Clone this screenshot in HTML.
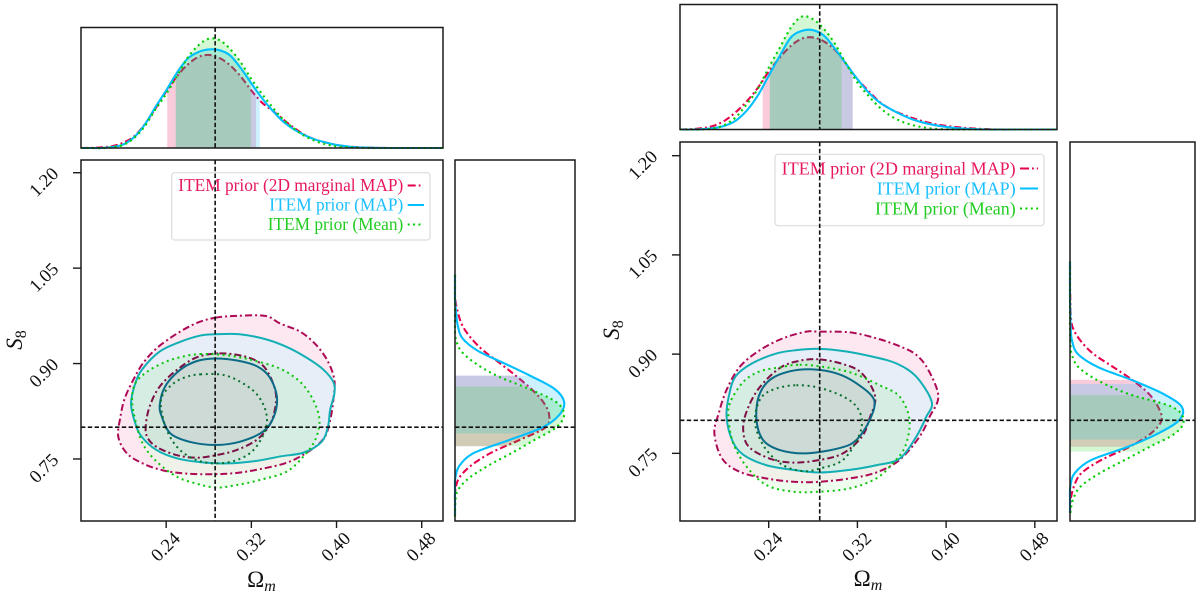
<!DOCTYPE html>
<html lang="en">
<head>
<meta charset="utf-8">
<title>Omega_m and S_8 posterior comparison</title>
<style>
html,body{margin:0;padding:0;background:#fff;width:1200px;height:594px;overflow:hidden}
svg{display:block}
text{font-family:"Liberation Serif",serif;fill:#111}
</style>
</head>
<body>
<svg id="figure" xmlns="http://www.w3.org/2000/svg" width="1200" height="594" viewBox="0 0 1200 594">
  <defs id="clip-defs"></defs>

  <g id="left-chart">
    <g id="left-marks"></g>
    <g>
      <rect x="171.7" y="172.7" width="258.3" height="67.3" rx="3" fill="#fff" fill-opacity="0.8" stroke="#dcdcdc" stroke-width="1.2"/>
      <text x="403.3" y="191" text-anchor="end" font-size="17.5" textLength="225" lengthAdjust="spacingAndGlyphs" style="fill:#e6195f">ITEM prior (2D marginal MAP)</text>
      <text x="403.3" y="210.5" text-anchor="end" font-size="17.5" textLength="134" lengthAdjust="spacingAndGlyphs" style="fill:#19bfff">ITEM prior (MAP)</text>
      <text x="403.3" y="230" text-anchor="end" font-size="17.5" textLength="135.6" lengthAdjust="spacingAndGlyphs" style="fill:#22cc22">ITEM prior (Mean)</text>
      <line x1="407.7" x2="423" y1="185.5" y2="185.5" stroke="#e6004c" stroke-width="2" stroke-dasharray="8 3 1.8 3"/>
      <line x1="407.7" x2="424" y1="205" y2="205" stroke="#00bfff" stroke-width="2"/>
      <line x1="407.7" x2="424" y1="224.5" y2="224.5" stroke="#00cd00" stroke-width="2" stroke-dasharray="2 3.4"/>
    </g>
    <g id="left-truth"></g>
    <g id="left-axes"></g>
    <text x="261.5" y="587" text-anchor="middle" font-size="23">Ω<tspan font-size="16" dy="4" font-style="italic">m</tspan></text>
    <text transform="translate(22 340) rotate(-90)" text-anchor="middle" font-size="23" font-style="italic">S<tspan font-size="16" dy="4" font-style="normal">8</tspan></text>
  </g>

  <g id="right-chart">
    <g id="right-marks"></g>
    <g>
      <rect x="775" y="154.3" width="269" height="71.4" rx="3" fill="#fff" fill-opacity="0.8" stroke="#dcdcdc" stroke-width="1.2"/>
      <text x="1015.7" y="174.5" text-anchor="end" font-size="18" textLength="234" lengthAdjust="spacingAndGlyphs" style="fill:#e6195f">ITEM prior (2D marginal MAP)</text>
      <text x="1015.7" y="194.5" text-anchor="end" font-size="18" textLength="139" lengthAdjust="spacingAndGlyphs" style="fill:#19bfff">ITEM prior (MAP)</text>
      <text x="1015.7" y="214.5" text-anchor="end" font-size="18" textLength="140.7" lengthAdjust="spacingAndGlyphs" style="fill:#22cc22">ITEM prior (Mean)</text>
      <line x1="1020" x2="1038" y1="168.5" y2="168.5" stroke="#e6004c" stroke-width="2" stroke-dasharray="9 3 1.8 3"/>
      <line x1="1020" x2="1038" y1="188.5" y2="188.5" stroke="#00bfff" stroke-width="2"/>
      <line x1="1020" x2="1038" y1="208.5" y2="208.5" stroke="#00cd00" stroke-width="2" stroke-dasharray="2 3.4"/>
    </g>
    <g id="right-truth"></g>
    <g id="right-axes"></g>
    <text x="868" y="586" text-anchor="middle" font-size="23">Ω<tspan font-size="16" dy="4" font-style="italic">m</tspan></text>
    <text transform="translate(619 330) rotate(-90)" text-anchor="middle" font-size="23" font-style="italic">S<tspan font-size="16" dy="4" font-style="normal">8</tspan></text>
  </g>
</svg>

<script>
/* ---------- shared axis values ---------- */
const omegaGrid = [0.16,0.17,0.18,0.19,0.20,0.21,0.22,0.23,0.24,0.25,0.26,0.27,0.28,0.29,0.30,0.31,0.32,0.33,0.34,0.35,0.36,0.37,0.38,0.39,0.40,0.41,0.42,0.43,0.44,0.45,0.46,0.47,0.48,0.49,0.50];
const s8Grid = [0.66,0.68,0.70,0.72,0.74,0.76,0.78,0.80,0.82,0.84,0.86,0.88,0.90,0.92,0.94,0.96,0.98,1.00,1.02,1.04];
const omegaTicks = [0.24,0.32,0.40,0.48];
const omegaTickLabels = ["0.24","0.32","0.40","0.48"];
const s8Ticks = [0.75,0.90,1.05,1.20];
const s8TickLabels = ["0.75","0.90","1.05","1.20"];
const truthOmega = 0.286;
const truthS8 = 0.80;

/* ---------- left chart: Omega_m marginals ---------- */
const leftOmegaRed = [0,0.001,0.006,0.018,0.05,0.107,0.218,0.362,0.515,0.653,0.76,0.83,0.85,0.822,0.755,0.653,0.525,0.414,0.34,0.26,0.184,0.12,0.077,0.05,0.028,0.015,0.007,0.003,0.001,0,0,0,0,0,0];
const leftOmegaBlue = [0,0,0,0.01,0.034,0.10,0.215,0.375,0.525,0.685,0.815,0.875,0.90,0.893,0.845,0.73,0.59,0.455,0.34,0.24,0.17,0.117,0.077,0.05,0.028,0.015,0.006,0.003,0.001,0,0,0,0,0,0];
const leftOmegaGreen = [0,0,0,0.006,0.03,0.092,0.20,0.353,0.494,0.653,0.822,0.935,0.997,0.985,0.905,0.782,0.63,0.494,0.37,0.26,0.178,0.11,0.064,0.034,0.015,0.006,0.002,0,0,0,0,0,0,0,0];
/* left chart: S8 marginals */
const leftS8Red = [0,0,0.003,0.037,0.15,0.333,0.593,0.832,0.862,0.807,0.70,0.563,0.416,0.263,0.147,0.067,0.027,0.003,0,0];
const leftS8Blue = [0,0,0,0.003,0.043,0.18,0.50,0.807,0.96,1.0,0.914,0.70,0.456,0.21,0.067,0.025,0.01,0,0,0];
const leftS8Green = [0,0.003,0.024,0.128,0.31,0.526,0.73,0.93,1.0,0.924,0.68,0.394,0.19,0.055,0.006,0,0,0,0,0];
/* left chart: 68% intervals [low, high] */
const leftOmegaBandRed = [0.241,0.3244];
const leftOmegaBandBlue = [0.249,0.328];
const leftOmegaBandGreen = [0.249,0.3197];
const leftS8BandRed = [0.77,0.881];
const leftS8BandBlue = [0.79,0.881];
const leftS8BandGreen = [0.77,0.864];
/* left chart: contours as [Omega_m, S8] */
const leftRedOuter = [[0.286,0.972],[0.306,0.975],[0.333,0.975],[0.347,0.963],[0.366,0.950],[0.381,0.929],[0.392,0.903],[0.398,0.874],[0.397,0.843],[0.394,0.811],[0.388,0.782],[0.372,0.760],[0.353,0.744],[0.328,0.734],[0.306,0.728],[0.284,0.726],[0.259,0.727],[0.237,0.732],[0.218,0.743],[0.203,0.759],[0.195,0.785],[0.197,0.816],[0.201,0.845],[0.209,0.874],[0.218,0.900],[0.231,0.924],[0.250,0.947],[0.269,0.964]];
const leftBlueOuter = [[0.286,0.946],[0.309,0.946],[0.334,0.938],[0.356,0.924],[0.375,0.906],[0.388,0.890],[0.397,0.871],[0.398,0.853],[0.394,0.827],[0.392,0.801],[0.386,0.777],[0.369,0.760],[0.347,0.754],[0.325,0.747],[0.297,0.743],[0.272,0.745],[0.250,0.751],[0.231,0.764],[0.217,0.785],[0.211,0.806],[0.207,0.837],[0.211,0.869],[0.218,0.892],[0.234,0.919],[0.253,0.934],[0.272,0.944]];
const leftGreenOuter = [[0.272,0.915],[0.297,0.913],[0.322,0.905],[0.347,0.892],[0.366,0.871],[0.378,0.843],[0.384,0.811],[0.380,0.780],[0.369,0.754],[0.353,0.730],[0.328,0.717],[0.306,0.709],[0.287,0.705],[0.269,0.711],[0.250,0.722],[0.231,0.746],[0.218,0.774],[0.211,0.811],[0.208,0.843],[0.211,0.869],[0.222,0.887],[0.237,0.901],[0.253,0.910]];
const leftRedInner = [[0.290,0.916],[0.312,0.912],[0.328,0.901],[0.337,0.882],[0.343,0.853],[0.342,0.827],[0.337,0.803],[0.325,0.780],[0.306,0.764],[0.287,0.756],[0.269,0.752],[0.250,0.756],[0.231,0.769],[0.222,0.785],[0.221,0.806],[0.225,0.835],[0.234,0.864],[0.250,0.890],[0.269,0.910]];
const leftBlueInner = [[0.286,0.908],[0.306,0.905],[0.325,0.896],[0.337,0.879],[0.344,0.848],[0.341,0.816],[0.331,0.793],[0.309,0.777],[0.286,0.772],[0.262,0.777],[0.244,0.790],[0.236,0.816],[0.234,0.835],[0.239,0.864],[0.253,0.890],[0.269,0.904]];
const leftGreenInner = [[0.272,0.883],[0.294,0.882],[0.312,0.869],[0.326,0.850],[0.334,0.822],[0.333,0.795],[0.322,0.764],[0.306,0.748],[0.287,0.743],[0.269,0.748],[0.253,0.764],[0.242,0.790],[0.236,0.822],[0.236,0.848],[0.247,0.869],[0.259,0.879]];

/* ---------- right chart: Omega_m marginals ---------- */
const rightOmegaRed = [0,0.003,0.012,0.032,0.076,0.15,0.246,0.364,0.51,0.633,0.736,0.80,0.81,0.774,0.698,0.575,0.443,0.34,0.243,0.179,0.135,0.10,0.07,0.047,0.032,0.02,0.012,0.006,0.002,0,0,0,0,0,0];
const rightOmegaBlue = [0,0,0.003,0.012,0.032,0.076,0.164,0.296,0.472,0.648,0.81,0.868,0.874,0.824,0.707,0.575,0.443,0.326,0.238,0.179,0.129,0.088,0.059,0.038,0.023,0.012,0.006,0.002,0,0,0,0,0,0,0];
const rightOmegaGreen = [0,0,0,0.009,0.04,0.105,0.22,0.355,0.545,0.72,0.897,0.994,0.97,0.883,0.75,0.575,0.413,0.296,0.194,0.12,0.07,0.038,0.018,0.006,0.002,0,0,0,0,0,0,0,0,0,0];
/* right chart: S8 marginals */
const rightS8Red = [0,0.006,0.035,0.10,0.276,0.526,0.712,0.806,0.776,0.694,0.556,0.385,0.209,0.094,0.024,0.006,0.003,0,0,0];
const rightS8Blue = [0,0,0.003,0.041,0.188,0.51,0.776,0.96,0.985,0.82,0.556,0.25,0.07,0.018,0.006,0.003,0,0,0,0];
const rightS8Green = [0.003,0.026,0.094,0.262,0.482,0.703,0.924,1.0,0.90,0.512,0.247,0.076,0.015,0.003,0,0,0,0,0,0];
/* right chart: 68% intervals [low, high] */
const rightOmegaBandRed = [0.2346,0.3157];
const rightOmegaBandBlue = [0.241,0.3157];
const rightOmegaBandGreen = [0.241,0.3058];
const rightS8BandRed = [0.76,0.861];
const rightS8BandBlue = [0.771,0.855];
const rightS8BandGreen = [0.7525,0.838];
/* right chart: contours as [Omega_m, S8] */
const rightRedOuter = [[0.286,0.934],[0.313,0.933],[0.337,0.924],[0.358,0.912],[0.373,0.899],[0.384,0.876],[0.393,0.836],[0.385,0.805],[0.376,0.775],[0.358,0.740],[0.337,0.721],[0.313,0.712],[0.286,0.707],[0.262,0.707],[0.238,0.712],[0.214,0.722],[0.198,0.742],[0.191,0.780],[0.195,0.811],[0.202,0.846],[0.214,0.881],[0.232,0.906],[0.253,0.924],[0.274,0.934]];
const rightBlueOuter = [[0.286,0.908],[0.310,0.904],[0.334,0.896],[0.355,0.886],[0.373,0.866],[0.387,0.828],[0.382,0.805],[0.373,0.775],[0.358,0.742],[0.337,0.732],[0.313,0.725],[0.286,0.721],[0.262,0.725],[0.238,0.732],[0.217,0.748],[0.207,0.770],[0.202,0.805],[0.204,0.836],[0.210,0.866],[0.225,0.886],[0.247,0.901],[0.265,0.906]];
const rightGreenOuter = [[0.268,0.884],[0.292,0.880],[0.316,0.871],[0.340,0.853],[0.358,0.836],[0.367,0.800],[0.363,0.760],[0.352,0.735],[0.337,0.712],[0.313,0.697],[0.286,0.692],[0.262,0.692],[0.238,0.702],[0.220,0.730],[0.208,0.765],[0.204,0.800],[0.205,0.826],[0.217,0.858],[0.232,0.874],[0.250,0.880]];
const rightRedInner = [[0.286,0.892],[0.307,0.885],[0.324,0.871],[0.336,0.836],[0.331,0.803],[0.324,0.775],[0.307,0.750],[0.286,0.740],[0.262,0.736],[0.241,0.742],[0.222,0.760],[0.217,0.785],[0.220,0.813],[0.231,0.848],[0.250,0.879],[0.268,0.890]];
const rightBlueInner = [[0.280,0.877],[0.301,0.871],[0.319,0.856],[0.335,0.831],[0.331,0.800],[0.319,0.770],[0.304,0.758],[0.274,0.750],[0.250,0.755],[0.235,0.770],[0.229,0.800],[0.231,0.836],[0.241,0.861],[0.259,0.874]];
const rightGreenInner = [[0.265,0.853],[0.286,0.849],[0.307,0.836],[0.319,0.821],[0.324,0.800],[0.321,0.775],[0.307,0.740],[0.286,0.727],[0.271,0.723],[0.253,0.732],[0.238,0.755],[0.229,0.785],[0.228,0.810],[0.234,0.836],[0.247,0.848]];

/* ---------- drawing ---------- */
const NS = 'http://www.w3.org/2000/svg';
const RED = '#e6004c', BLUE = '#00bfff', GREEN = '#00cd00';
const DASH_RED = '7 3 2 3', DOTS = '2 3.6';

function make(tag, attrs, parent) {
  const node = document.createElementNS(NS, tag);
  for (const key in attrs) node.setAttribute(key, attrs[key]);
  parent.appendChild(node);
  return node;
}

/* Catmull-Rom spline through points, open or closed */
function spline(pts, closed) {
  const n = pts.length;
  const at = i => closed ? pts[(i + n) % n] : pts[Math.max(0, Math.min(n - 1, i))];
  let d = 'M' + pts[0][0].toFixed(2) + ' ' + pts[0][1].toFixed(2);
  const segs = closed ? n : n - 1;
  for (let i = 0; i < segs; i++) {
    const p0 = at(i - 1), p1 = at(i), p2 = at(i + 1), p3 = at(i + 2);
    const c1x = p1[0] + (p2[0] - p0[0]) / 6, c1y = p1[1] + (p2[1] - p0[1]) / 6;
    const c2x = p2[0] - (p3[0] - p1[0]) / 6, c2y = p2[1] - (p3[1] - p1[1]) / 6;
    d += 'C' + c1x.toFixed(2) + ' ' + c1y.toFixed(2) + ' ' + c2x.toFixed(2) + ' ' + c2y.toFixed(2) + ' ' + p2[0].toFixed(2) + ' ' + p2[1].toFixed(2);
  }
  return closed ? d + 'Z' : d;
}

function drawChart(cfg) {
  const marks = document.getElementById(cfg.id + '-marks');
  const truth = document.getElementById(cfg.id + '-truth');
  const axes = document.getElementById(cfg.id + '-axes');
  const defs = document.getElementById('clip-defs');
  const M = cfg.main, T = cfg.top, R = cfg.side;
  const DENS_MAX = 1.1;

  const sx = v => M.x + (v - cfg.xMin) / (cfg.xMax - cfg.xMin) * M.w;
  const sy = v => M.y + (cfg.yMax - v) / (cfg.yMax - cfg.yMin) * M.h;
  const topY = d => T.y + T.h - d / DENS_MAX * T.h;
  const sideX = d => R.x + d / DENS_MAX * R.w;

  /* ---- 2D contours ---- */
  const cp = arr => arr.map(p => [sx(p[0]), sy(p[1])]);
  const pRO = spline(cp(cfg.redOuter), true), pBO = spline(cp(cfg.blueOuter), true), pGO = spline(cp(cfg.greenOuter), true);
  const pRI = spline(cp(cfg.redInner), true), pBI = spline(cp(cfg.blueInner), true), pGI = spline(cp(cfg.greenInner), true);

  const clipR = make('clipPath', {id: cfg.id + '-clip-red'}, defs);
  make('path', {d: pRO}, clipR);
  const clipB = make('clipPath', {id: cfg.id + '-clip-blue'}, defs);
  make('path', {d: pBO}, clipB);

  const fills = [
    {d: pRO, fill: '#fde8f1', name: 'contour-fill-red-95'},
    {d: pGO, fill: '#effdef', name: 'contour-fill-green-95'},
    {d: pGO, fill: '#f0f1e8', clip: cfg.id + '-clip-red', name: 'contour-fill-green-red-overlap'},
    {d: pBO, fill: '#e8eef7', name: 'contour-fill-blue-95'},
    {d: pGO, fill: '#d6ede4', clip: cfg.id + '-clip-blue', name: 'contour-fill-green-blue-overlap'},
    {d: pRI, fill: '#d2e6dc', name: 'contour-fill-red-68'},
    {d: pGI, fill: '#d0e4da', name: 'contour-fill-green-68'},
    {d: pBI, fill: '#cddad6', name: 'contour-fill-blue-68'}
  ];
  for (const f of fills) {
    const shape = make('path', {d: f.d, fill: f.fill}, marks);
    if (f.clip) shape.setAttribute('clip-path', 'url(#' + f.clip + ')');
    
    
  }
  const strokes = [
    {d: pRO, c: '#ad0a55', dash: DASH_RED, name: 'contour-line-red-95'},
    {d: pRI, c: '#7e1045', dash: DASH_RED, name: 'contour-line-red-68'},
    {d: pBO, c: '#12b0b5', dash: '', name: 'contour-line-blue-95'},
    {d: pBI, c: '#0b6a85', dash: '', name: 'contour-line-blue-68'},
    {d: pGO, c: '#0cc40c', dash: DOTS, name: 'contour-line-green-95'},
    {d: pGI, c: '#0a7030', dash: DOTS, name: 'contour-line-green-68'}
  ];
  for (const s of strokes) {
    const line = make('path', {d: s.d, fill: 'none', stroke: s.c, 'stroke-width': 2}, marks);
    if (s.dash) line.setAttribute('stroke-dasharray', s.dash);
    
    
  }

  /* ---- marginals ---- */
  const series = [
    {key: 'red', color: RED, alpha: 0.2, dash: DASH_RED, top: cfg.omegaRed, side: cfg.s8Red, tb: cfg.omegaBandRed, sb: cfg.s8BandRed},
    {key: 'blue', color: BLUE, alpha: 0.2, dash: '', top: cfg.omegaBlue, side: cfg.s8Blue, tb: cfg.omegaBandBlue, sb: cfg.s8BandBlue},
    {key: 'green', color: GREEN, alpha: 0.17, dash: DOTS, top: cfg.omegaGreen, side: cfg.s8Green, tb: cfg.omegaBandGreen, sb: cfg.s8BandGreen}
  ];
  const topLines = {}, sideLines = {};
  for (const s of series) {
    topLines[s.key] = spline(omegaGrid.map((v, i) => [sx(v), topY(s.top[i])]), false);
    sideLines[s.key] = spline(s8Grid.map((v, i) => [sideX(s.side[i]), sy(v)]), false);
  }

  function curve(d, s, panel) {
    const line = make('path', {d: d, fill: 'none', stroke: s.color, 'stroke-width': 2.1}, marks);
    if (s.dash) line.setAttribute('stroke-dasharray', s.dash);
    
    
  }

  /* red curve lies under the shaded bands, so draw it first */
  curve(topLines.red, series[0], 'omega-marginal');
  curve(sideLines.red, series[0], 's8-marginal');

  for (const s of series) {
    const c1 = make('clipPath', {id: cfg.id + '-band-top-' + s.key}, defs);
    make('rect', {x: sx(s.tb[0]), y: T.y, width: sx(s.tb[1]) - sx(s.tb[0]), height: T.h}, c1);
    const area1 = topLines[s.key] + 'L' + sx(omegaGrid[omegaGrid.length - 1]) + ' ' + topY(0) + 'L' + sx(omegaGrid[0]) + ' ' + topY(0) + 'Z';
    const band1 = make('path', {d: area1, fill: s.color, 'fill-opacity': s.alpha, 'clip-path': 'url(#' + cfg.id + '-band-top-' + s.key + ')'}, marks);
    
    

    const c2 = make('clipPath', {id: cfg.id + '-band-side-' + s.key}, defs);
    make('rect', {x: R.x, y: sy(s.sb[1]), width: R.w, height: sy(s.sb[0]) - sy(s.sb[1])}, c2);
    const area2 = sideLines[s.key] + 'L' + sideX(0) + ' ' + sy(s8Grid[s8Grid.length - 1]) + 'L' + sideX(0) + ' ' + sy(s8Grid[0]) + 'Z';
    const band2 = make('path', {d: area2, fill: s.color, 'fill-opacity': s.alpha, 'clip-path': 'url(#' + cfg.id + '-band-side-' + s.key + ')'}, marks);
    
    
  }
  curve(topLines.blue, series[1], 'omega-marginal');
  curve(sideLines.blue, series[1], 's8-marginal');
  curve(topLines.green, series[2], 'omega-marginal');
  curve(sideLines.green, series[2], 's8-marginal');

  /* ---- reference lines ---- */
  const refs = [
    {x1: sx(truthOmega), x2: sx(truthOmega), y1: T.y, y2: T.y + T.h, name: 'truth-omega-line-top-panel'},
    {x1: sx(truthOmega), x2: sx(truthOmega), y1: M.y, y2: M.y + M.h, name: 'truth-omega-line-main-panel'},
    {x1: M.x, x2: M.x + M.w, y1: sy(truthS8), y2: sy(truthS8), name: 'truth-s8-line-main-panel'},
    {x1: R.x, x2: R.x + R.w, y1: sy(truthS8), y2: sy(truthS8), name: 'truth-s8-line-side-panel'}
  ];
  for (const r of refs) {
    const line = make('line', {x1: r.x1, x2: r.x2, y1: r.y1, y2: r.y2, stroke: '#111', 'stroke-width': 1.6, 'stroke-dasharray': '4.4 2.4'}, truth);
    
    
  }

  /* ---- frames ---- */
  const frames = [[T, 'omega-marginal-frame'], [M, 'joint-panel-frame'], [R, 's8-marginal-frame']];
  for (const pair of frames) {
    const box = pair[0];
    const frame = make('rect', {x: box.x, y: box.y, width: box.w, height: box.h, fill: 'none', stroke: '#1a1a1a', 'stroke-width': 1.5}, axes);
    
    
  }

  /* ---- ticks ---- */
  omegaTicks.forEach((v, i) => {
    const x = sx(v);
    const tick = make('line', {x1: x, x2: x, y1: M.y + M.h, y2: M.y + M.h + 7, stroke: '#1a1a1a', 'stroke-width': 1.4}, axes);
    
    
    const label = make('text', {transform: 'translate(' + x + ' ' + (M.y + M.h + 26.5) + ') rotate(-45)', 'text-anchor': 'middle', 'dominant-baseline': 'central', 'font-size': 18.5}, axes);
    label.textContent = omegaTickLabels[i];
    
    
  });
  s8Ticks.forEach((v, i) => {
    const y = sy(v);
    const tick = make('line', {x1: M.x - 8, x2: M.x, y1: y, y2: y, stroke: '#1a1a1a', 'stroke-width': 1.4}, axes);
    
    
    const label = make('text', {transform: 'translate(' + (M.x - 36.5) + ' ' + (y + 10) + ') rotate(-45)', 'text-anchor': 'middle', 'dominant-baseline': 'central', 'font-size': 18.5}, axes);
    label.textContent = s8TickLabels[i];
    
    
  });
}

drawChart({
  id: 'left',
  top: {x: 81, y: 27.5, w: 362, h: 120.5},
  main: {x: 81, y: 160, w: 362, h: 361},
  side: {x: 455, y: 160, w: 120, h: 361},
  xMin: 0.16, xMax: 0.50, yMin: 0.6525, yMax: 1.22,
  omegaRed: leftOmegaRed, omegaBlue: leftOmegaBlue, omegaGreen: leftOmegaGreen,
  s8Red: leftS8Red, s8Blue: leftS8Blue, s8Green: leftS8Green,
  omegaBandRed: leftOmegaBandRed, omegaBandBlue: leftOmegaBandBlue, omegaBandGreen: leftOmegaBandGreen,
  s8BandRed: leftS8BandRed, s8BandBlue: leftS8BandBlue, s8BandGreen: leftS8BandGreen,
  redOuter: leftRedOuter, blueOuter: leftBlueOuter, greenOuter: leftGreenOuter,
  redInner: leftRedInner, blueInner: leftBlueInner, greenInner: leftGreenInner
});
drawChart({
  id: 'right',
  top: {x: 680, y: 4.5, w: 377, h: 125},
  main: {x: 680, y: 142, w: 377, h: 379},
  side: {x: 1070, y: 142, w: 125, h: 379},
  xMin: 0.16, xMax: 0.50, yMin: 0.6477, yMax: 1.2207,
  omegaRed: rightOmegaRed, omegaBlue: rightOmegaBlue, omegaGreen: rightOmegaGreen,
  s8Red: rightS8Red, s8Blue: rightS8Blue, s8Green: rightS8Green,
  omegaBandRed: rightOmegaBandRed, omegaBandBlue: rightOmegaBandBlue, omegaBandGreen: rightOmegaBandGreen,
  s8BandRed: rightS8BandRed, s8BandBlue: rightS8BandBlue, s8BandGreen: rightS8BandGreen,
  redOuter: rightRedOuter, blueOuter: rightBlueOuter, greenOuter: rightGreenOuter,
  redInner: rightRedInner, blueInner: rightBlueInner, greenInner: rightGreenInner
});
</script>
</body>
</html>
